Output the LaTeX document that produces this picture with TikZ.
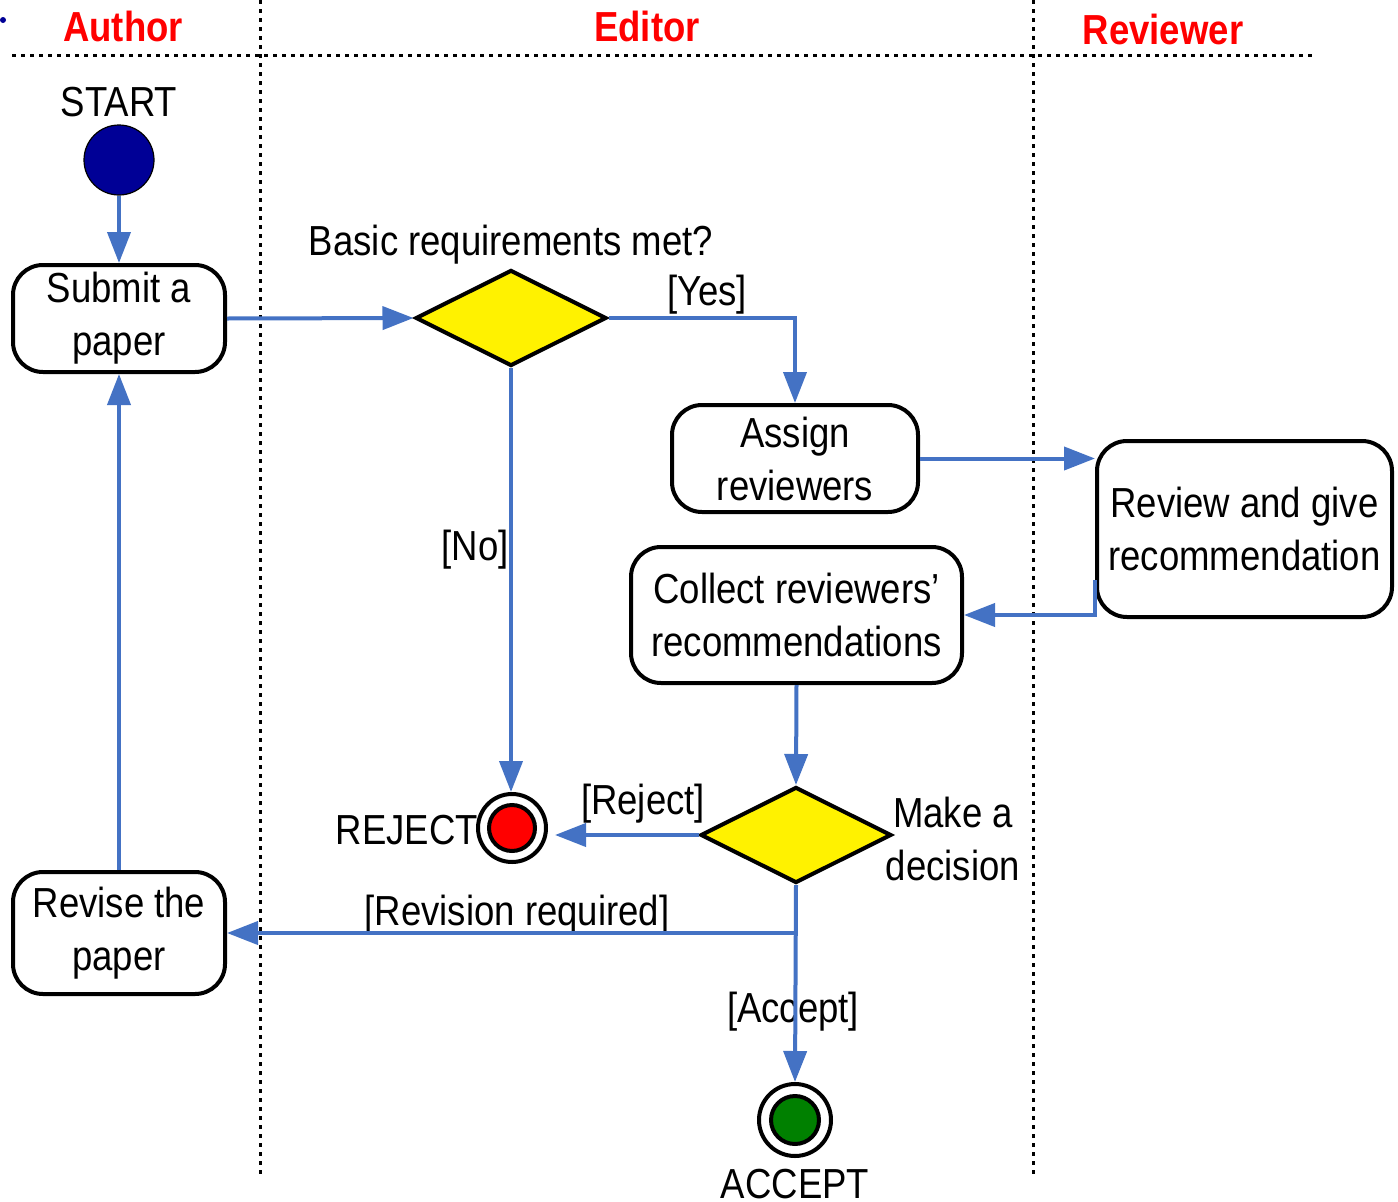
\documentclass[tikz,border=0pt]{standalone}
\usepackage{fontspec}
\setmainfont{Liberation Sans}[FakeStretch=0.87]
\usetikzlibrary{arrows.meta,shapes.geometric}
\definecolor{conn}{RGB}{68,114,196}
\definecolor{startblue}{RGB}{0,0,150}
\definecolor{acceptgreen}{RGB}{0,128,0}
\begin{document}
\begin{tikzpicture}[x=1pt,y=-1pt,
  font=\fontsize{42}{53}\selectfont,
  actbox/.style={draw, line width=4pt, rounded corners=30pt, align=center, inner sep=0pt},
  decision/.style={diamond, draw, line width=4pt, fill=yellow, inner sep=0pt, aspect=2,
                   minimum width=191pt, minimum height=96pt},
  flow/.style={draw=conn, line width=4pt, -{Triangle[length=31pt,width=23pt]}},
  swimline/.style={line width=3pt, dash pattern=on 4pt off 5pt},
  lane/.style={text=red, font=\fontsize{42}{53}\selectfont\bfseries, inner sep=0pt},
  lbl/.style={inner sep=0pt, align=center},
  endouter/.style={circle, draw, line width=4pt, fill=white, inner sep=0pt},
  endinner/.style={circle, draw, line width=4pt, inner sep=0pt}]

\useasboundingbox[fill=white] (0,0) rectangle (1398,1202);

% stray bullet
\fill[startblue] (3,20) circle (3);

% swimlanes
\draw[swimline] (12,55) -- (1312,55);
\draw[swimline] (260,0) -- (260,1175);
\draw[swimline] (1033,0) -- (1033,1175);
\node[lane] (laneA) at (123,26) {Author};
\node[lane] (laneE) at (647,26) {Editor};
\node[lane] (laneR) at (1163,29) {Reviewer};

% nodes
\node[lbl] (startlbl) at (119,102) {START};
\node[circle, draw, line width=1.2pt, fill=startblue, minimum size=70pt, inner sep=0pt] (start) at (119,160) {};
\node[actbox, minimum width=212pt, minimum height=107pt] (submit) at (119,318.5) {Submit a\\paper};
\node[decision] (d1) at (511,318) {};
\node[lbl] (d1lbl) at (511,245) {Basic requirements met?};
\node[actbox, minimum width=246pt, minimum height=107pt] (assign) at (795,458.5) {Assign\\reviewers};
\node[actbox, minimum width=295pt, minimum height=176pt] (review) at (1244.5,529) {Review and give\\recommendation};
\node[actbox, minimum width=331pt, minimum height=136pt] (collect) at (796.5,615) {Collect reviewers’\\recommendations};
\node[decision] (d2) at (796,835) {};
\node[lbl] (d2lbl) at (953,839) {Make a\\decision};
\node[endouter, minimum size=68pt] (reject) at (512,828) {};
\node[endinner, minimum size=46pt, fill=red] (rejectin) at (512,828) {};
\node[lbl, anchor=east] (rejectlbl) at (478,830) {REJECT};
\node[endouter, minimum size=72pt] (accept) at (795,1120) {};
\node[endinner, minimum size=48pt, fill=acceptgreen] (acceptin) at (795,1120) {};
\node[lbl, anchor=base] (acceptlbl) at (795,1198) {ACCEPT};
\node[actbox, minimum width=212pt, minimum height=122pt] (revise) at (119,933) {Revise the\\paper};

% connector labels
\node[lbl] (yeslbl) at (707,295) {[Yes]};
\node[lbl] (nolbl) at (475,550) {[No]};
\node[lbl] (rejlbl) at (643,804) {[Reject]};
\node[lbl] (revlbl) at (517,915) {[Revision required]};
\node[lbl] (acclbl) at (793,1012) {[Accept]};

% connectors
\draw[flow] (start.south) -- (submit.north);
\draw[flow] (submit.east) -- (d1.west);
\draw[flow] (d1.east) -| (assign.north);
\draw[flow] (d1.south) -- (d1.south |- reject.north);
\draw[flow] (assign.east) -- (assign.east -| review.west);
\draw[flow] ([yshift=-51pt]review.west) |- (collect.east);
\draw[flow] (collect.south) -- (d2.north);
\draw[flow, shorten >=7pt] (d2.west) -- (d2.west -| reject.east);
\draw[flow] (d2.south) |- (revise.east);
\draw[flow] (d2.south) -- (accept.north);
\draw[flow] (revise.north) -- (submit.south);
\end{tikzpicture}
\end{document}
